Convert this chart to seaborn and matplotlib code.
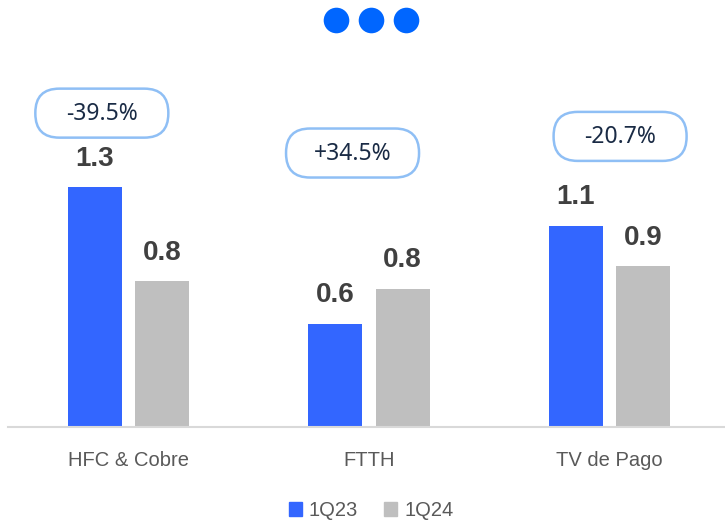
import pandas as pd
import matplotlib.pyplot as plt
import seaborn as sns
from matplotlib.patches import Patch, FancyBboxPatch

# ------------------ Daten ------------------
categorias = ['HFC & Cobre', 'FTTH', 'TV de Pago']
periodos = ['1Q23', '1Q24']
valores_1q23 = [1.30, 0.56, 1.09]
valores_1q24 = [0.79, 0.75, 0.87]

# Burbujas de variación (texto, posición x relativa a la categoría, altura y)
var_textos = ['-39.5%', '+34.5%', '-20.7%']
var_dx = [-0.11, -0.068, 0.044]
var_y = [1.70, 1.484, 1.574]

azul = '#3366ff'
gris = '#bfbfbf'

df = pd.DataFrame({
    'categoria': categorias * 2,
    'periodo': [periodos[0]] * 3 + [periodos[1]] * 3,
    'valor': valores_1q23 + valores_1q24,
})

sns.set_style('white')
plt.rcParams['font.family'] = ['Liberation Sans', 'DejaVu Sans']

fig = plt.figure(figsize=(7.25, 5.22), dpi=100)
ax = fig.add_axes([8 / 725, 95 / 522, 717 / 725, 377 / 522])

sns.barplot(data=df, x='categoria', y='valor', hue='periodo', palette=[azul, gris],
            width=0.56, gap=0.2, linewidth=0, saturation=1, legend=False, ax=ax)

for cont in ax.containers:
    ax.bar_label(cont, fmt='%.1f', padding=11, fontsize=20, fontweight='bold', color='#404040')

ax.set_xlim(-0.5, 2.48)
ax.set_ylim(0, 2.042)
ax.set_xlabel('')
ax.set_ylabel('')
ax.set_yticks([])
for s in ['top', 'right', 'left']:
    ax.spines[s].set_visible(False)
ax.spines['bottom'].set_color('#d9d9d9')
ax.spines['bottom'].set_linewidth(1.5)
ax.tick_params(axis='x', length=0, pad=17)
for lbl in ax.get_xticklabels():
    lbl.set_fontsize(14.5)
    lbl.set_color('#595959')

# Capa superior en píxeles para los adornos
top = fig.add_axes([0, 0, 1, 1])
top.set_xlim(0, 725)
top.set_ylim(0, 522)
top.axis('off')

# Burbujas con el porcentaje de variación
w, h = 133, 49
for i, (t, dx, y) in enumerate(zip(var_textos, var_dx, var_y)):
    cx, cy = ax.transData.transform((i + dx, y))
    top.add_patch(FancyBboxPatch((cx - w / 2, cy - h / 2), w, h,
                                 boxstyle='round,pad=0,rounding_size=24',
                                 fc='white', ec='#8fbff5', lw=1.8))
    top.text(cx, cy - 1, t, ha='center', va='center', fontsize=16.5,
             family=['Noto Sans', 'DejaVu Sans'], color='#1a2b45')

# Tres puntos decorativos arriba
top.scatter([336, 371, 406], [502, 502, 502], s=340, color='#0066ff', linewidths=0)

# Leyenda
handles = [Patch(color=azul, label=periodos[0]), Patch(color=gris, label=periodos[1])]
leg = fig.legend(handles=handles, loc='lower center', bbox_to_anchor=(0.512, -0.031), ncol=2,
                 frameon=False, handlelength=0.65, handleheight=0.7, handletextpad=0.35,
                 columnspacing=1.3, prop={'size': 14.5})
for t in leg.get_texts():
    t.set_color('#595959')

fig.savefig('out.png', dpi=100)
